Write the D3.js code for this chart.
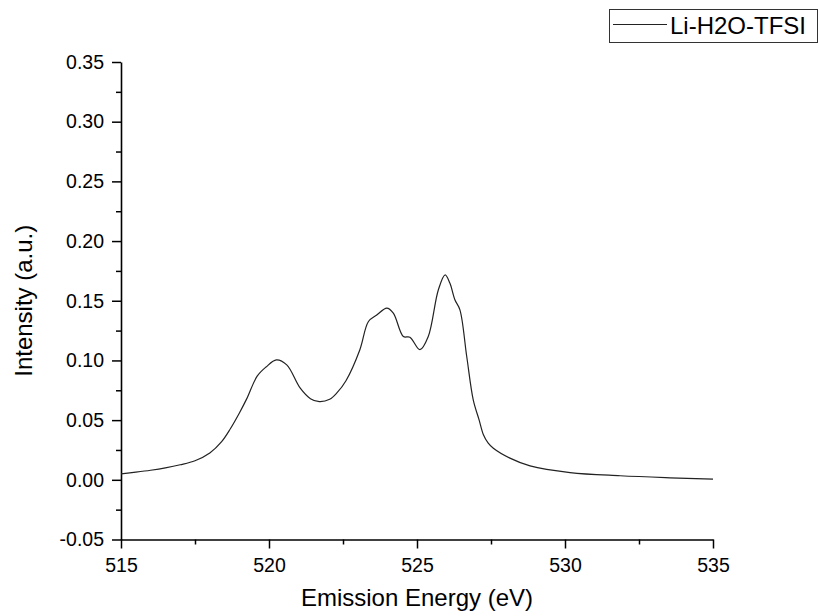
<!DOCTYPE html>
<html>
<head>
<meta charset="utf-8">
<script src="https://cdn.jsdelivr.net/npm/d3@7"></script>
<style>
  html, body { margin: 0; padding: 0; background: #fff; }
  svg { display: block; }
  svg text { font-family: "Liberation Sans", Arial, sans-serif; }
</style>
</head>
<body>
<svg id="chart" width="819" height="616"></svg>
<script>
// O K-edge emission spectrum, Li-H2O-TFSI
const energy = [
  515.0, 515.5, 516.0, 516.5, 517.0, 517.5, 518.0, 518.4, 518.7, 519.0,
  519.25, 519.6, 519.9, 520.25, 520.6, 521.05, 521.4, 521.7, 522.05, 522.3,
  522.6, 523.07, 523.36, 523.64, 523.98, 524.2, 524.54, 524.76, 525.1, 525.38,
  525.72, 525.95, 526.11, 526.28, 526.45, 526.68, 526.9, 527.1, 527.24, 527.4,
  527.58, 528.14, 528.82, 530.17, 531.86, 533.55, 535.0
];
const intensity = [
  0.0050, 0.0064, 0.0080, 0.0100, 0.0126, 0.0160, 0.0225, 0.0320, 0.0430, 0.0560,
  0.0680, 0.0868, 0.0945, 0.1005, 0.0963, 0.0770, 0.0680, 0.0655, 0.0675, 0.0730,
  0.0830, 0.1090, 0.1326, 0.1380, 0.1438, 0.1396, 0.1200, 0.1195, 0.1090, 0.1200,
  0.1590, 0.1717, 0.1648, 0.1508, 0.1424, 0.1033, 0.0670, 0.0500, 0.0380, 0.0310,
  0.0265, 0.0182, 0.0117, 0.0061, 0.0034, 0.0017, 0.0006
];
const xTicks = [515, 520, 525, 530, 535];
const xMinor = [517.5, 522.5, 527.5, 532.5];
const yTicks = [-0.05, 0, 0.05, 0.10, 0.15, 0.20, 0.25, 0.30, 0.35];
const yMinor = [-0.025, 0.025, 0.075, 0.125, 0.175, 0.225, 0.275, 0.325];
const seriesName = "Li-H2O-TFSI";

const svg = d3.select("#chart");
const x = d3.scaleLinear().domain([515, 535]).range([121, 713]);
const y = d3.scaleLinear().domain([-0.05, 0.35]).range([539.5, 62]);

// x axis
const gx = svg.append("g").attr("transform", `translate(0,${y(-0.05)})`);
gx.call(d3.axisBottom(x).tickValues(xTicks).tickFormat(d3.format("d")).tickSize(9).tickSizeOuter(0));
gx.append("g").call(d3.axisBottom(x).tickValues(xMinor).tickFormat("").tickSize(5).tickSizeOuter(0))
  .select(".domain").remove();

// y axis
const gy = svg.append("g").attr("transform", `translate(${x(515)},0)`);
gy.call(d3.axisLeft(y).tickValues(yTicks).tickFormat(d => d.toFixed(2)).tickSize(9).tickSizeOuter(0));
gy.append("g").call(d3.axisLeft(y).tickValues(yMinor).tickFormat("").tickSize(5).tickSizeOuter(0))
  .select(".domain").remove();

svg.selectAll(".domain").attr("stroke", "#000").attr("stroke-width", 1.6);
svg.selectAll(".tick line").attr("stroke", "#000").attr("stroke-width", 1.5);
gx.selectAll(".tick text").attr("font-size", 19.5).attr("fill", "#000")
  .attr("y", 0).attr("dy", 0).attr("transform", "translate(0,32)");
gy.selectAll(".tick text").attr("font-size", 19.5).attr("fill", "#000").attr("x", -17);

// axis titles
svg.append("text")
  .attr("x", (x(515) + x(535)) / 2).attr("y", 606)
  .attr("text-anchor", "middle").attr("font-size", 24).attr("fill", "#000")
  .text("Emission Energy (eV)");
svg.append("text")
  .attr("transform", `translate(32,${(y(-0.05) + y(0.35)) / 2}) rotate(-90)`)
  .attr("text-anchor", "middle").attr("font-size", 24).attr("fill", "#000")
  .text("Intensity (a.u.)");

// spectrum
const pts = energy.map((e, i) => [e, intensity[i]]);
svg.append("path")
  .datum(pts)
  .attr("fill", "none").attr("stroke", "#222").attr("stroke-width", 1.2)
  .attr("d", d3.line().x(d => x(d[0])).y(d => y(d[1])).curve(d3.curveCatmullRom.alpha(0.5)));

// legend
const lg = svg.append("g");
lg.append("rect").attr("x", 609.5).attr("y", 9.5).attr("width", 208).attr("height", 33)
  .attr("fill", "#fff").attr("stroke", "#333").attr("stroke-width", 1);
lg.append("line").attr("x1", 613).attr("x2", 667).attr("y1", 24.5).attr("y2", 24.5)
  .attr("stroke", "#222").attr("stroke-width", 1.2);
lg.append("text").attr("x", 670).attr("y", 33.5).attr("font-size", 24).attr("fill", "#000")
  .text(seriesName);
</script>
</body>
</html>
